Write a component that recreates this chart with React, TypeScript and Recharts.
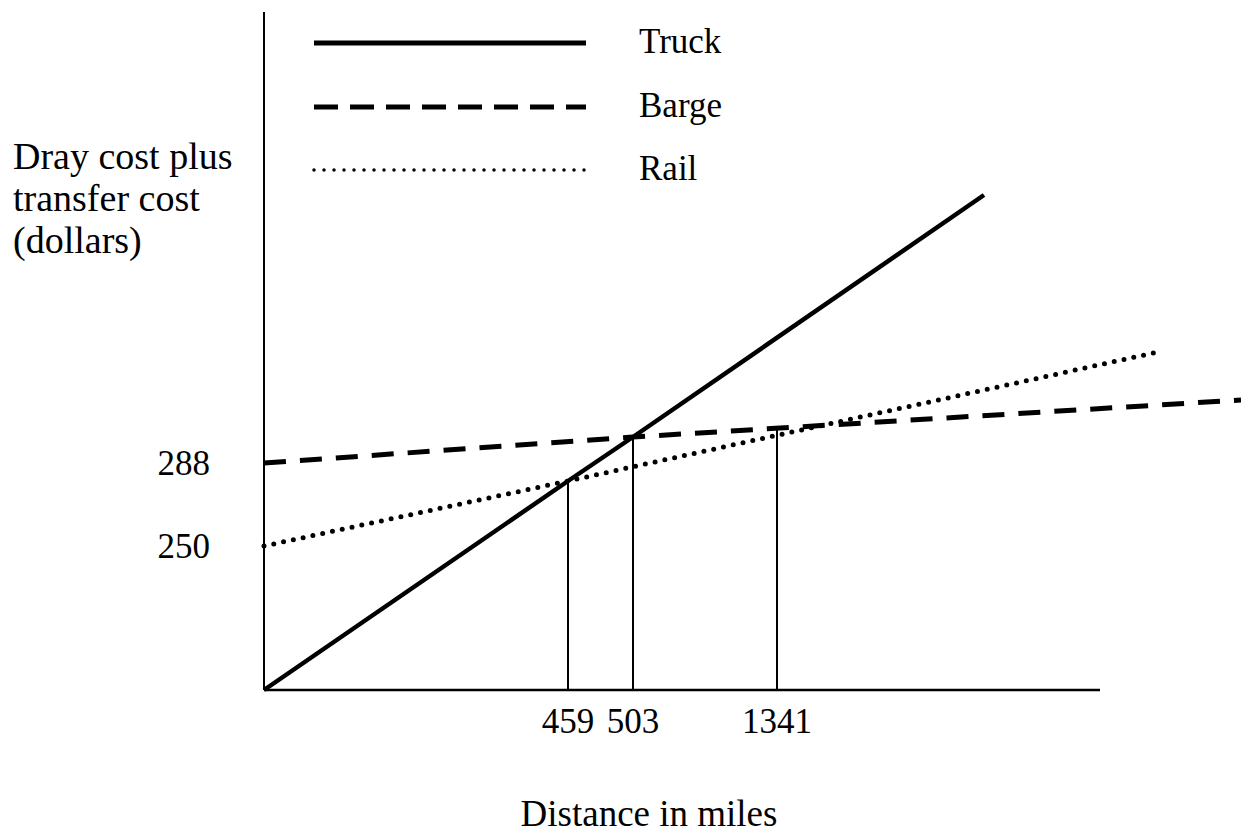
import { LineChart, Line, XAxis, YAxis, ReferenceLine, Legend, Label } from "recharts";

// Schematic chart: positions are in drawing units, labels carry the real values.
const seriesNames = ["Truck", "Barge", "Rail"];

const truckPoints = [
  { x: 0, y: 0 },
  { x: 304, y: 209 },
  { x: 369, y: 253 },
  { x: 720, y: 495 },
];
const bargePoints = [
  { x: 0, y: 227 },
  { x: 369, y: 253 },
  { x: 977, y: 290 },
];
const railPoints = [
  { x: 0, y: 144 },
  { x: 304, y: 209 },
  { x: 894, y: 338 },
];

// break-even distances
const breakevenPos = [304, 369, 513];
const breakevenCost = [209, 253, 260];
const breakevenLabels = ["459", "503", "1341"];

// cost intercepts
const costPos = [227, 144];
const costLabels = ["288", "250"];

const FONT = "'Liberation Serif', 'Times New Roman', serif";
const xAxisEnd = 836;

const lineStyles = [
  { width: 4.5, dash: undefined, legendWidth: 5, legendDash: undefined },
  { width: 5, dash: "22 14", legendWidth: 5, legendDash: "24 12" },
  { width: 5, dash: "0 10", legendWidth: 3.5, legendDash: "0 10" },
];

function LegendBox() {
  const rows = [53, 117, 180];
  return (
    <svg width={440} height={200} style={{ display: "block" }}>
      {seriesNames.map((name, i) => (
        <g key={name}>
          <line
            x1={14}
            x2={286}
            y1={rows[i] - 10}
            y2={rows[i] - 10}
            stroke="#000"
            strokeWidth={lineStyles[i].legendWidth}
            strokeDasharray={lineStyles[i].legendDash}
            strokeLinecap={i === 2 ? "round" : "butt"}
          />
          <text x={339} y={rows[i]} fontSize={35} fontFamily={FONT} fill="#000">
            {name}
          </text>
        </g>
      ))}
    </svg>
  );
}

export default function App() {
  return (
    <div style={{ position: "absolute", left: 0, top: 0, background: "#fff" }}>
      <LineChart
        width={1241}
        height={833}
        margin={{ top: 12, right: 0, bottom: 0, left: 0 }}
      >
        <XAxis
          dataKey="x"
          type="number"
          domain={[0, 977]}
          ticks={breakevenPos}
          tickFormatter={(v) => breakevenLabels[breakevenPos.indexOf(v)]}
          axisLine={false}
          tickLine={false}
          tickSize={0}
          tickMargin={18}
          height={143}
          interval={0}
          tick={{ fontSize: 35, fill: "#000", fontFamily: FONT }}
        >
          <Label
            content={() => (
              <text
                x={649}
                y={826}
                textAnchor="middle"
                fontSize={37}
                fontFamily={FONT}
                fill="#000"
              >
                Distance in miles
              </text>
            )}
          />
        </XAxis>
        <YAxis
          type="number"
          domain={[0, 678]}
          ticks={costPos}
          tickFormatter={(v) => costLabels[costPos.indexOf(v)]}
          axisLine={{ stroke: "#000", strokeWidth: 2 }}
          tickLine={false}
          tickSize={0}
          tickMargin={54}
          width={264}
          interval={0}
          tick={{ fontSize: 35, fill: "#000", fontFamily: FONT }}
        >
          <Label
            content={() => (
              <text x={13} y={169} fontSize={38} fontFamily={FONT} fill="#000">
                <tspan x={13} y={169}>Dray cost plus</tspan>
                <tspan x={13} y={211}>transfer cost</tspan>
                <tspan x={13} y={253}>(dollars)</tspan>
              </text>
            )}
          />
        </YAxis>
        <Legend
          layout="horizontal"
          verticalAlign="middle"
          align="center"
          wrapperStyle={{ left: 300, top: 0, width: 440, height: 200 }}
          content={() => <LegendBox />}
        />
        <ReferenceLine
          segment={[
            { x: 0, y: 0 },
            { x: xAxisEnd, y: 0 },
          ]}
          stroke="#000"
          strokeWidth={2.5}
        />
        {breakevenPos.map((pos, i) => (
          <ReferenceLine
            key={pos}
            segment={[
              { x: pos, y: 0 },
              { x: pos, y: breakevenCost[i] },
            ]}
            stroke="#000"
            strokeWidth={2}
          />
        ))}
        <Line
          data={bargePoints}
          dataKey="y"
          name={seriesNames[1]}
          stroke="#000"
          strokeWidth={lineStyles[1].width}
          strokeDasharray={lineStyles[1].dash}
          dot={false}
          activeDot={false}
          isAnimationActive={false}
        />
        <Line
          data={railPoints}
          dataKey="y"
          name={seriesNames[2]}
          stroke="#000"
          strokeWidth={lineStyles[2].width}
          strokeDasharray={lineStyles[2].dash}
          strokeLinecap="round"
          dot={false}
          activeDot={false}
          isAnimationActive={false}
        />
        <Line
          data={truckPoints}
          dataKey="y"
          name={seriesNames[0]}
          stroke="#000"
          strokeWidth={lineStyles[0].width}
          dot={false}
          activeDot={false}
          isAnimationActive={false}
        />
      </LineChart>
    </div>
  );
}
